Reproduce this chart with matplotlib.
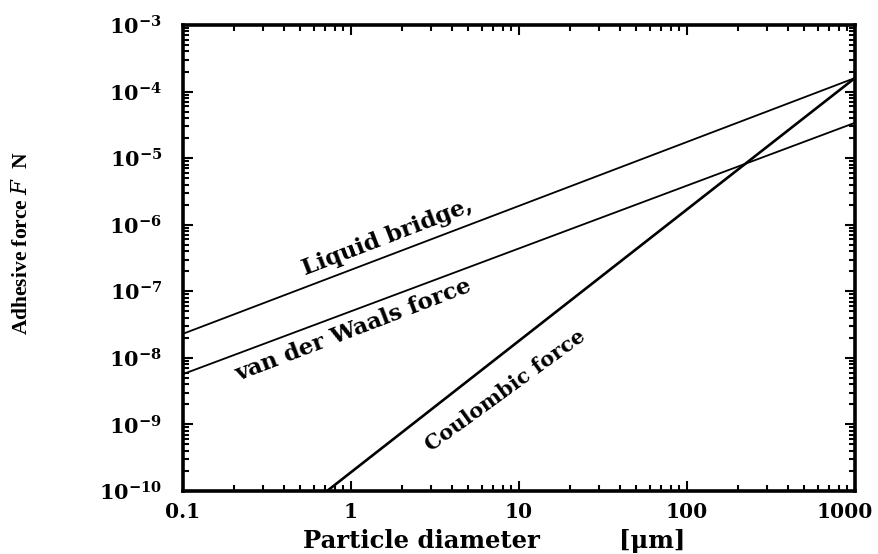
import numpy as np
import matplotlib
matplotlib.use("Agg")
import matplotlib.pyplot as plt
import matplotlib.transforms as mtransforms
from matplotlib.ticker import FixedLocator, FixedFormatter, LogLocator, NullFormatter

# ---- data ----
x_ends = [0.1, 1000.0]                      # particle diameter range [um]
liquid_bridge = [2.3e-8, 1.6e-4]            # N at x_ends
van_der_waals = [5.7e-9, 3.4e-5]            # N at x_ends
coulomb_x = [0.72, 1000.0]
coulomb_y = [1.0e-10, 1.6e-4]

x_ticks = [0.1, 1, 10, 100, 1000]
x_tick_labels = ["0.1", "1", "10", "100", "1000"]
y_ticks = [1e-10, 1e-9, 1e-8, 1e-7, 1e-6, 1e-5, 1e-4, 1e-3]
y_exponents = [-10, -9, -8, -7, -6, -5, -4, -3]

plt.rcParams['mathtext.fontset'] = 'dejavuserif'
serif = ['DejaVu Serif']

fig = plt.figure(figsize=(8.79, 5.54), dpi=100)
ax = fig.add_axes([183/879, 1-491/554, (855-183)/879, (491-25)/554])

ax.plot(x_ends, liquid_bridge, color='black', lw=1.3)
ax.plot(x_ends, van_der_waals, color='black', lw=1.3)
ax.plot(coulomb_x, coulomb_y, color='black', lw=1.9)

ax.set_xscale('log')
ax.set_yscale('log')
ax.set_xlim(0.1, 1000)
ax.set_ylim(1e-10, 1e-3)

ax.xaxis.set_major_locator(FixedLocator(x_ticks))
ax.xaxis.set_major_formatter(FixedFormatter(x_tick_labels))
ax.yaxis.set_major_locator(FixedLocator(y_ticks))
ax.yaxis.set_major_formatter(FixedFormatter([r'$\mathbf{10^{%d}}$' % e for e in y_exponents]))
ax.xaxis.set_minor_locator(LogLocator(base=10, subs=np.arange(2, 10)))
ax.yaxis.set_minor_locator(LogLocator(base=10, subs=np.arange(2, 10)))
ax.xaxis.set_minor_formatter(NullFormatter())
ax.yaxis.set_minor_formatter(NullFormatter())

ax.tick_params(which='both', direction='in', top=True, right=True, width=1.5, colors='black')
ax.tick_params(which='major', length=7)
ax.tick_params(which='minor', length=4)
ax.tick_params(axis='y', which='major', labelsize=15, pad=15)
ax.tick_params(axis='x', which='major', labelsize=14.5, pad=8)
for lab in ax.get_xticklabels():
    lab.set_fontfamily(serif)
    lab.set_fontweight('bold')
# nudge the last x label inward so it stays inside the picture
last = ax.get_xticklabels()[-1]
last.set_transform(last.get_transform() + mtransforms.ScaledTranslation(-10/100, 0, fig.dpi_scale_trans))
for sp in ax.spines.values():
    sp.set_linewidth(2.6)

# curve labels
ax.text(1.64, 6.5e-7, "Liquid bridge,", rotation=21, ha='center', va='center',
        fontsize=16.5, fontweight='bold', family=serif)
ax.text(1.03, 2.6e-8, "van der Waals force", rotation=21, ha='center', va='center',
        fontsize=16.5, fontweight='bold', family=serif)
ax.text(8.3, 3.2e-9, "Coulombic force", rotation=36, ha='center', va='center',
        fontsize=15, fontweight='bold', family=serif)

# axis labels
fig.text(22/879, 1-243/554, "Adhesive force $F$  N", rotation=90, ha='center', va='center',
         fontsize=15.5, family=['Liberation Serif'], fontweight='bold')
fig.text(421/879, 1-541/554, "Particle diameter", ha='center', va='center',
         fontsize=17.5, fontweight='bold', family=serif)
fig.text(652/879, 1-541/554, "[μm]", ha='center', va='center',
         fontsize=17.5, fontweight='bold', family=serif)

fig.savefig("out.png", dpi=100)
